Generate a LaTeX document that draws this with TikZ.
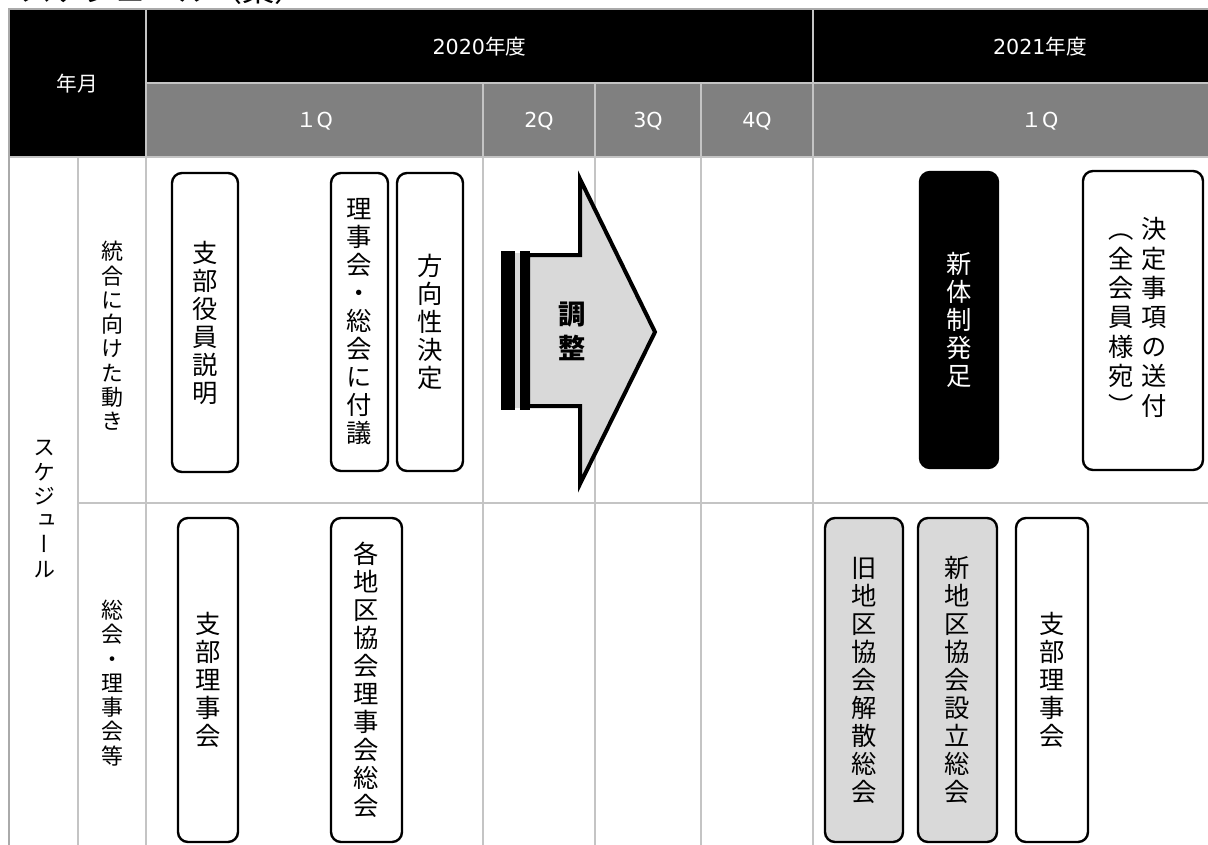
\documentclass[tikz,border=0pt]{standalone}
\usepackage{fontspec}
\setmainfont{Noto Sans CJK JP}
\newfontfamily\latin{DejaVu Sans}
\newfontfamily\tatefont[RawFeature=+vert]{Noto Sans CJK JP}
\usetikzlibrary{calc}
\definecolor{gridgray}{RGB}{196,196,196}
\definecolor{framegray}{RGB}{170,170,170}
\definecolor{hdrgray}{RGB}{128,128,128}
\definecolor{boxgray}{RGB}{217,217,217}
\tikzset{evbox/.style n args={2}{draw=black,line width=1.8pt,rounded corners=7.5pt,fill=white,
    minimum width=#1*0.75pt,minimum height=#2*0.75pt,inner sep=0pt,align=center,
    font=\tatefont\fontsize{19}{21}\selectfont}}

\begin{document}
\begin{tikzpicture}[x=0.75pt,y=-0.75pt]
  \tikzset{gridline/.style={draw=gridgray,line width=1.4pt}}
  \tikzset{hdr/.style={text=white,font=\fontsize{15.5}{18}\selectfont}}
  \tikzset{sidelabel/.style={align=center,font=\tatefont\fontsize{16.5}{18.2}\selectfont}}

  \useasboundingbox (0,0) rectangle (1208,844);
  \clip (0,0) rectangle (1208,844);

  % title, cut at the top edge
  \node[anchor=base west,inner sep=0pt,font=\fontsize{24}{28}\selectfont] (title) at (20,1) {スケジュール（案）};

  % header cells
  \fill[black] (10,10) rectangle (1270,83);
  \fill[black] (10,83) rectangle (146,157);
  \fill[hdrgray] (146,83) rectangle (1270,157);

  % grid
  \draw[gridline] (146,10) -- (146,862);
  \draw[gridline] (813,10) -- (813,862);
  \foreach \x in {483,595,701}
    \draw[gridline] (\x,83) -- (\x,862);
  \draw[gridline] (146,83) -- (1270,83);
  \draw[gridline] (10,157) -- (1270,157);
  \draw[gridline] (78,157) -- (78,862);
  \draw[gridline] (78,503) -- (1270,503);
  \draw[draw=framegray,line width=1.5pt] (9,862) -- (9,9) -- (1270,9);

  % header texts
  \node[hdr] (ym) at (77,84) {年月};
  \node[hdr] (fy2020) at (479.5,46.5) {{\latin 2020}年度};
  \node[hdr] (fy2021) at (1040,46.5) {{\latin 2021}年度};
  \node[hdr] (q1a) at (314.5,121) {１{\latin Q}};
  \foreach \x/\q in {539/2,648/3,757/4}
    \node[hdr] (q\q) at (\x,121) {{\latin \q Q}};
  \node[hdr] (q1b) at (1040,121) {１{\latin Q}};

  % row labels
  \node[sidelabel] (sched) at (44,509) {ス\\ケ\\ジ\\ュ\\ー\\ル};
  \node[sidelabel] (toward) at (112,336) {統\\合\\に\\向\\け\\た\\動\\き};
  \node[sidelabel] (meeting) at (112,683) {総\\会\\・\\理\\事\\会\\等};

  % adjustment arrow
  \fill[boxgray] (501,253) rectangle (530,408);
  \fill[black] (501,251) rectangle (515,410);
  \fill[black] (520,251) rectangle (530,410);
  \draw[fill=boxgray,line width=3pt,line join=miter]
    (528,255) -- (580,255) -- (580,179) -- (655,332) -- (580,484) -- (580,406) -- (528,406) -- cycle;
  \node[align=center,font=\fontsize{20.5}{25.5}\selectfont\bfseries] (adjust) at (572,331) {調\\整};

  % row 1: toward the merger
  \node[evbox={66}{299}] (brief) at (205,322.5) {支\\部\\役\\員\\説\\明};
  \node[evbox={57}{298}] (refer) at (359.5,322) {理\\事\\会\\・\\総\\会\\に\\付\\議};
  \node[evbox={66}{298}] (policy) at (430,322) {方\\向\\性\\決\\定};
  \node[evbox={78}{296},fill=black,text=white] (launch) at (959,320) {新\\体\\制\\発\\足};
  \node[evbox={120}{299}] (notice) at (1143,320.5)
    {\begin{tabular}{@{}c@{\hspace{6pt}}c@{\hspace{8pt}}}（&決\\全&定\\会&事\\員&項\\様&の\\宛&送\\）&付\end{tabular}};

  % row 2: general meetings and boards
  \node[evbox={60}{324}] (board) at (208,680) {支\\部\\理\\事\\会};
  \node[evbox={71}{324}] (district) at (366.5,680) {各\\地\\区\\協\\会\\理\\事\\会\\総\\会};
  \node[evbox={78}{324},fill=boxgray] (dissolve) at (864,680) {旧\\地\\区\\協\\会\\解\\散\\総\\会};
  \node[evbox={79}{324},fill=boxgray] (found) at (957.5,680) {新\\地\\区\\協\\会\\設\\立\\総\\会};
  \node[evbox={72}{324}] (board2) at (1052,680) {支\\部\\理\\事\\会};
\end{tikzpicture}
\end{document}
